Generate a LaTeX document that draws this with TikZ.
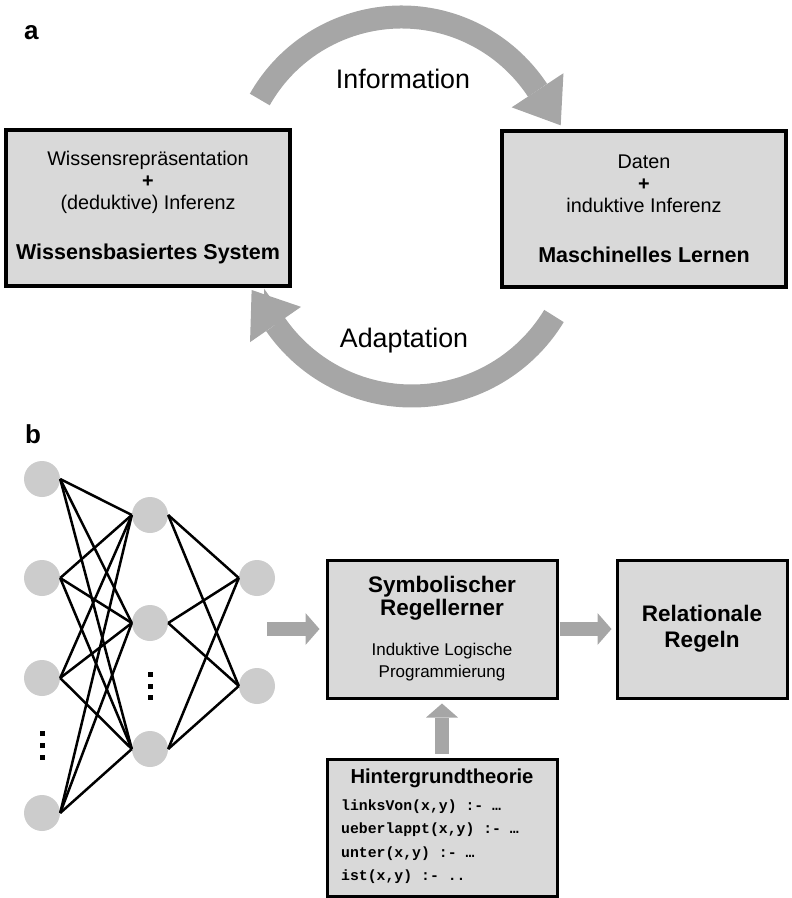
\documentclass[tikz,border=0pt]{standalone}
\usepackage{fontspec}
\setmainfont{Liberation Sans}
\setmonofont{Liberation Mono}
\usetikzlibrary{positioning,arrows.meta}
\definecolor{boxgray}{HTML}{D9D9D9}
\definecolor{arrowgray}{HTML}{A6A6A6}
\definecolor{neurongray}{HTML}{CCCCCC}

\begin{document}
\begin{tikzpicture}[
      x=1pt, y=1pt,
      every node/.style={inner sep=0pt},
      panel/.style={font=\fontsize{26}{30}\selectfont\bfseries, anchor=base west},
      sysbox/.style={draw, line width=3.3pt, fill=boxgray, align=center, minimum width=284pt, minimum height=156pt, font=\fontsize{19.8}{22}\selectfont},
      ruleblock/.style={draw, line width=3pt, fill=boxgray, align=center, minimum height=138pt},
      neuron/.style={circle, fill=neurongray, minimum size=36pt},
      edge/.style={line width=2.5pt},
      band/.style={arrowgray, line width=23pt, -{Triangle[length=42pt, width=62pt, line width=0pt]}},
      blockarrow/.style={arrowgray, line width=14pt, -{Triangle[length=14pt, width=32pt, line width=0pt]}},
      code/.style={font=\fontsize{14.8}{23}\selectfont\ttfamily\bfseries, anchor=base west},
    ]
    \useasboundingbox (0,0) rectangle (792,-898);

    % Panel a
    \node[panel] (pa) at (24,-39) {a};
    \node[sysbox] (wbs) at (148,-208) {Wissensrepräsentation\\\textbf{+}\\(deduktive) Inferenz\\[28pt]{\fontsize{21.5}{24}\selectfont\bfseries Wissensbasiertes System}};
    \node[sysbox] (ml) at (644,-209) {Daten\\\textbf{+}\\induktive Inferenz\\[28pt]{\fontsize{21.5}{24}\selectfont\bfseries Maschinelles Lernen}};

    % Curved arrows
    \coordinate (infoc) at (401.5,-180);
    \coordinate (adapc) at (412,-230);
    \draw[band] ([shift={(150.4:163)}]infoc) arc[start angle=150.4, end angle=33.4, radius=163] -- ++(-56.6:42);
    \draw[band] ([shift={(-31.2:166)}]adapc) arc[start angle=-31.2, end angle=-145.3, radius=166] -- ++(124.7:42);
    \node[font=\fontsize{26.8}{30}\selectfont, anchor=base] (info) at (403,-88) {Information};
    \node[font=\fontsize{26.8}{30}\selectfont, anchor=base] (adap) at (404,-347) {Adaptation};

    % Panel b
    \node[panel] (pb) at (25,-443) {b};

    % Network
    \node[neuron] (in1) at (42,-479) {};
    \node[neuron] (in2) at (42,-578) {};
    \node[neuron] (in3) at (42,-678) {};
    \node[neuron] (in4) at (42,-813) {};
    \node[neuron] (hid1) at (150,-515) {};
    \node[neuron] (hid2) at (150,-623) {};
    \node[neuron] (hid3) at (150,-749) {};
    \node[neuron] (out1) at (257,-578) {};
    \node[neuron] (out2) at (257,-686) {};
    \foreach \y in {731,743,755} \fill (39.5,-\y) rectangle ++(5,-5);
    \foreach \y in {672,684,695} \fill (147.5,-\y) rectangle ++(5,-5);

    \draw[edge] (in1.east) -- (hid1.west);
    \draw[edge] (in1.east) -- (hid2.west);
    \draw[edge] (in1.east) -- (hid3.west);
    \draw[edge] (in2.east) -- (hid1.west);
    \draw[edge] (in2.east) -- (hid2.west);
    \draw[edge] (in2.east) -- (hid3.west);
    \draw[edge] (in3.east) -- (hid1.west);
    \draw[edge] (in3.east) -- (hid2.west);
    \draw[edge] (in3.east) -- (hid3.west);
    \draw[edge] (in4.east) -- (hid1.west);
    \draw[edge] (in4.east) -- (hid2.west);
    \draw[edge] (in4.east) -- (hid3.west);
    \draw[edge] (hid1.east) -- (out1.west);
    \draw[edge] (hid1.east) -- (out2.west);
    \draw[edge] (hid2.east) -- (out1.west);
    \draw[edge] (hid2.east) -- (out2.west);
    \draw[edge] (hid3.east) -- (out1.west);
    \draw[edge] (hid3.east) -- (out2.west);

    % Rule learner
    \node[ruleblock, minimum width=230pt, font=\fontsize{22.5}{23}\selectfont] (ilp) at (442,-629) {\textbf{Symbolischer}\\\textbf{Regellerner}\\[17pt]{\fontsize{17}{21}\selectfont Induktive Logische}\\[-1pt]{\fontsize{17}{21}\selectfont Programmierung}};
    \node[ruleblock, minimum width=170pt, font=\fontsize{22.5}{23}\selectfont\bfseries] (rel) at (702,-629) {Relationale\\[3pt]Regeln};
    \node[ruleblock, minimum width=230pt, minimum height=137pt] (bg) at (442,-827.5) {};
    \node[font=\fontsize{20.2}{24}\selectfont\bfseries, anchor=base] (bgtitle) at (442,-783) {Hintergrundtheorie};
    \node[code] (c1) at (341,-810) {linksVon(x,y) :- …};
    \node[code] (c2) at (341,-833.5) {ueberlappt(x,y) :- …};
    \node[code] (c3) at (341,-857) {unter(x,y) :- …};
    \node[code] (c4) at (341,-880) {ist(x,y) :- ..};

    % Arrows
    \coordinate (nnout) at (267,-629);
    \draw[blockarrow, shorten >=6pt] (nnout) -- (ilp.west);
    \draw[blockarrow, shorten <=1pt, shorten >=4pt] (ilp.east) -- (rel.west);
    \draw[blockarrow, shorten <=4pt, shorten >=4pt] (bg.north) -- (ilp.south);
  \end{tikzpicture}
\end{document}
